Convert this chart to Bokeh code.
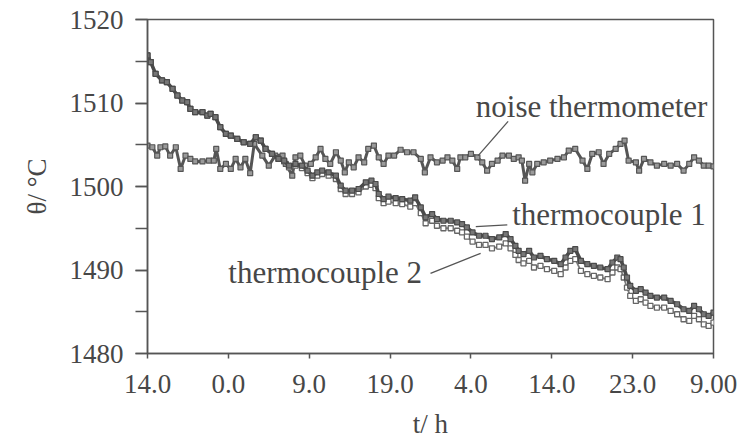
from bokeh.plotting import figure
from bokeh.models import Range1d, FixedTicker, SingleIntervalTicker, Label
from bokeh.embed import file_html
from bokeh.resources import INLINE

# ---------------- data ----------------
tick_hours = [0, 10, 20, 30, 40, 50, 60, 70]
tick_labels = ["14.0", "0.0", "9.0", "19.0", "4.0", "14.0", "23.0", "9.00"]

tc_hours = [0.0, 0.4, 1.0, 1.8, 2.4, 3.1, 3.7, 4.3, 4.9, 5.3, 5.9, 6.8, 7.4, 7.8, 8.4, 9.0,
            9.7, 10.3, 11.1, 11.9, 12.7, 13.4, 14.0, 14.6, 15.4, 16.2, 16.9, 17.5, 18.3, 19.1,
            19.8, 20.4, 21.0, 21.6, 22.4, 23.3, 23.9, 24.5, 25.3, 26.1, 27.0, 27.7, 28.2, 28.6,
            29.2, 29.8, 30.7, 31.5, 32.5, 33.1, 33.8, 34.4, 35.2, 35.8, 36.6, 37.5, 38.3, 38.9,
            39.5, 40.2, 41.0, 41.8, 42.6, 43.5, 44.3, 44.9, 45.5, 45.9, 46.5, 47.2, 47.8, 48.6,
            49.4, 50.3, 51.1, 51.7, 52.3, 52.9, 53.6, 54.4, 55.2, 56.0, 56.9, 57.5, 58.1, 58.5,
            58.9, 59.3, 59.7, 60.4, 61.0, 61.6, 62.2, 63.0, 63.9, 64.7, 65.5, 66.3, 67.0, 67.6,
            68.2, 68.8, 69.4, 70.0]

thermocouple1 = [1515.7, 1514.9, 1513.5, 1512.7, 1512.5, 1511.7, 1510.9, 1510.3, 1510.1, 1509.3,
                 1508.9, 1508.9, 1508.5, 1508.7, 1508.3, 1507.1, 1506.3, 1506.1, 1505.7, 1505.3,
                 1505.1, 1505.9, 1505.5, 1504.5, 1503.9, 1503.3, 1503.1, 1502.5, 1502.7, 1502.5,
                 1501.9, 1501.3, 1501.7, 1501.9, 1501.7, 1501.3, 1500.1, 1499.5, 1499.5, 1499.7,
                 1500.5, 1500.7, 1500.3, 1499.1, 1498.5, 1498.8, 1498.6, 1498.5, 1498.3, 1498.7,
                 1497.5, 1496.3, 1496.7, 1496.1, 1495.9, 1495.9, 1495.7, 1495.5, 1495.1, 1494.5,
                 1494.1, 1494.1, 1493.7, 1493.9, 1494.3, 1493.7, 1492.9, 1492.3, 1491.9, 1492.3,
                 1491.5, 1491.7, 1491.3, 1491.1, 1490.7, 1491.5, 1492.3, 1492.5, 1491.1, 1490.7,
                 1490.5, 1490.3, 1490.1, 1490.9, 1491.5, 1491.3, 1490.3, 1489.1, 1488.1, 1487.5,
                 1487.7, 1487.3, 1486.9, 1486.7, 1486.7, 1486.3, 1485.9, 1485.3, 1485.1, 1485.7,
                 1485.3, 1484.7, 1484.5, 1484.9]

thermocouple2 = [1515.7, 1514.9, 1513.5, 1512.7, 1512.5, 1511.7, 1510.9, 1510.3, 1510.1, 1509.3,
                 1508.9, 1508.9, 1508.5, 1508.7, 1508.3, 1507.1, 1506.3, 1506.1, 1505.7, 1505.3,
                 1505.1, 1505.9, 1505.5, 1504.5, 1503.9, 1503.3, 1503.0, 1502.3, 1502.5, 1502.2,
                 1501.6, 1501.0, 1501.3, 1501.5, 1501.3, 1500.9, 1499.7, 1499.1, 1499.1, 1499.3,
                 1500.0, 1500.2, 1499.8, 1498.6, 1498.0, 1498.2, 1498.0, 1497.9, 1497.6, 1498.0,
                 1496.8, 1495.6, 1495.9, 1495.3, 1495.0, 1495.0, 1494.7, 1494.5, 1494.0, 1493.4,
                 1493.0, 1493.0, 1492.6, 1492.8, 1493.2, 1492.6, 1491.8, 1491.2, 1490.8, 1491.1,
                 1490.3, 1490.5, 1490.1, 1489.9, 1489.5, 1490.3, 1491.1, 1491.3, 1489.9, 1489.5,
                 1489.3, 1489.1, 1488.9, 1489.7, 1490.3, 1490.1, 1489.1, 1487.9, 1486.9, 1486.3,
                 1486.5, 1486.1, 1485.7, 1485.5, 1485.5, 1485.1, 1484.7, 1484.1, 1483.9, 1484.5,
                 1484.1, 1483.5, 1483.3, 1483.7]

noise_hours = [0.0, 0.6, 1.2, 1.6, 2.2, 2.8, 3.5, 4.1, 4.7, 5.3, 5.9, 6.8, 7.6, 8.2, 8.5, 9.0,
               9.7, 10.3, 10.9, 11.5, 12.1, 12.7, 13.2, 14.2, 15.0, 15.8, 16.7, 17.1, 17.9, 18.3,
               18.9, 19.5, 20.2, 20.8, 21.4, 22.0, 22.6, 23.3, 23.9, 24.4, 24.9, 25.5, 26.1, 26.8,
               27.3, 28.0, 28.6, 29.2, 29.8, 30.5, 31.3, 32.1, 32.9, 33.8, 34.3, 35.0, 35.8, 36.5,
               37.1, 37.7, 38.3, 38.7, 39.3, 40.0, 40.8, 41.4, 42.0, 42.6, 43.3, 43.9, 44.7, 45.3,
               45.9, 46.3, 46.7, 47.2, 47.6, 48.2, 49.0, 49.8, 50.7, 51.5, 52.1, 52.9, 53.8, 54.4,
               55.0, 55.8, 56.4, 57.1, 57.9, 58.5, 59.0, 59.5, 60.4, 60.8, 61.4, 62.2, 63.0, 63.9,
               64.7, 65.5, 66.3, 67.0, 67.6, 68.2, 68.8, 69.4, 70.0]

noise_thermometer = [1504.9, 1504.7, 1503.7, 1504.7, 1504.8, 1503.7, 1504.7, 1502.1, 1503.7, 1503.3,
                     1503.0, 1503.0, 1503.1, 1503.1, 1504.5, 1502.1, 1502.7, 1502.1, 1503.3, 1502.3,
                     1503.3, 1501.6, 1505.1, 1503.7, 1502.5, 1503.7, 1503.7, 1502.7, 1501.3, 1503.5,
                     1503.7, 1502.5, 1502.7, 1503.5, 1504.5, 1503.3, 1502.7, 1504.1, 1503.1, 1501.7,
                     1502.9, 1502.3, 1503.5, 1502.9, 1504.5, 1504.9, 1503.5, 1502.7, 1503.7, 1503.7,
                     1504.4, 1504.1, 1504.1, 1503.3, 1501.7, 1503.5, 1502.9, 1503.1, 1503.5, 1503.1,
                     1502.1, 1503.5, 1503.5, 1503.9, 1503.5, 1502.9, 1501.9, 1502.7, 1503.1, 1503.7,
                     1503.7, 1503.3, 1503.5, 1503.1, 1500.7, 1502.7, 1501.7, 1502.7, 1502.9, 1503.1,
                     1503.3, 1503.5, 1504.3, 1504.5, 1503.1, 1502.1, 1503.9, 1504.1, 1502.7, 1503.9,
                     1504.5, 1505.1, 1505.5, 1503.1, 1502.9, 1501.9, 1503.3, 1502.9, 1502.5, 1502.7,
                     1502.5, 1502.7, 1501.9, 1502.7, 1503.5, 1503.1, 1502.5, 1502.5, 1502.4]

n = min(len(tc_hours), len(thermocouple1), len(thermocouple2))
tc_hours, thermocouple1, thermocouple2 = tc_hours[:n], thermocouple1[:n], thermocouple2[:n]
m = min(len(noise_hours), len(noise_thermometer))
noise_hours, noise_thermometer = noise_hours[:m], noise_thermometer[:m]

# ---------------- figure ----------------
FONT = "Liberation Serif"
INK = "#474747"
AX = "#555555"

p = figure(width=752, height=441, output_backend="svg", toolbar_location=None,
           x_range=Range1d(0, 70), y_range=Range1d(1480, 1520),
           min_border_left=147, min_border_right=39, min_border_top=19, min_border_bottom=88)
p.background_fill_color = "white"
p.border_fill_color = "white"
p.outline_line_color = AX
p.outline_line_width = 1.5
p.grid.visible = False

# x axis
xa = p.xaxis[0]
xa.ticker = FixedTicker(ticks=tick_hours)
xa.major_label_overrides = {h: lab for h, lab in zip(tick_hours, tick_labels)}
xa.major_tick_out = 5
xa.major_tick_in = 0
xa.minor_tick_out = 0
xa.minor_tick_in = 0
xa.major_label_standoff = 16
xa.major_label_text_font = FONT
xa.major_label_text_font_size = "27px"
xa.major_label_text_color = INK
xa.axis_line_color = AX
xa.axis_line_width = 1.5
xa.major_tick_line_color = AX
xa.major_tick_line_width = 1.5
xa.axis_label = "t/ h"
xa.axis_label_text_font = FONT
xa.axis_label_text_font_size = "27px"
xa.axis_label_text_font_style = "normal"
xa.axis_label_text_color = INK
xa.axis_label_standoff = 13

# y axis
ya = p.yaxis[0]
ya.ticker = SingleIntervalTicker(interval=10, num_minor_ticks=2)
ya.major_tick_out = 12
ya.major_tick_in = 0
ya.minor_tick_out = 12
ya.minor_tick_in = 0
ya.major_label_standoff = 12
ya.major_label_text_font = FONT
ya.major_label_text_font_size = "27px"
ya.major_label_text_color = INK
ya.axis_line_color = AX
ya.axis_line_width = 1.5
ya.major_tick_line_color = AX
ya.minor_tick_line_color = AX
ya.major_tick_line_width = 1.5
ya.minor_tick_line_width = 1.5
ya.axis_label = "\u03b8/ \u00b0C"
ya.axis_label_text_font = FONT
ya.axis_label_text_font_size = "27px"
ya.axis_label_text_font_style = "normal"
ya.axis_label_text_color = INK
ya.axis_label_standoff = 15

# ---------------- series ----------------
p.line(noise_hours, noise_thermometer, line_color="#555555", line_width=3)
p.scatter(noise_hours, noise_thermometer, marker="square", size=5,
          line_color="#555555", fill_color="#9a9a9a", line_width=1.2)

p.line(tc_hours, thermocouple2, line_color="#7a7a7a", line_width=1.8)
p.scatter(tc_hours, thermocouple2, marker="square", size=5,
          line_color="#666666", fill_color="white", line_width=1.3)

p.line(tc_hours, thermocouple1, line_color="#4a4a4a", line_width=3.6)
p.scatter(tc_hours, thermocouple1, marker="square", size=5,
          line_color="#4a4a4a", fill_color="#777777", line_width=1.2)

# ---------------- annotations ----------------
lead_x0 = [44.6, 44.5, 35.0]
lead_y0 = [1507.8, 1495.4, 1489.6]
lead_x1 = [40.9, 40.6, 41.2]
lead_y1 = [1503.7, 1495.2, 1492.0]
p.segment(lead_x0, lead_y0, lead_x1, lead_y1, line_color=AX, line_width=1.3)

ann_text = ["noise thermometer", "thermocouple 1", "thermocouple 2"]
ann_x = [40.6, 45.1, 10.0]
ann_y = [1509.6, 1496.6, 1489.7]
for txt, ax, ay in zip(ann_text, ann_x, ann_y):
    p.add_layout(Label(x=ax, y=ay, text=txt, text_font=FONT, text_font_size="31px",
                       text_color=INK, text_align="left", text_baseline="alphabetic"))

open("out.html", "w").write(file_html(p, INLINE))
